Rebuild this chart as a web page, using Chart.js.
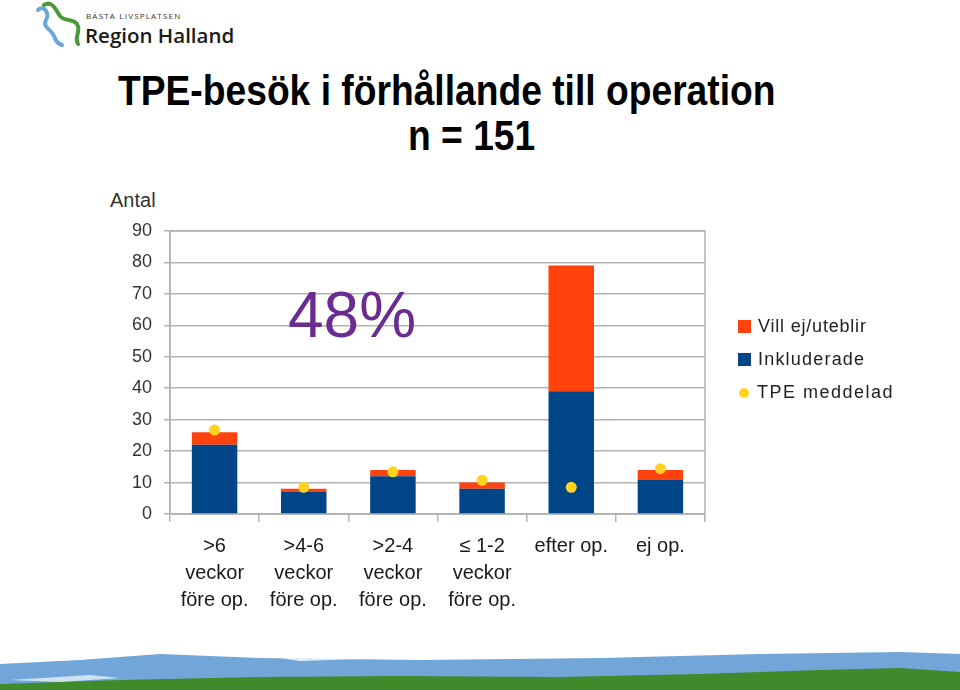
<!DOCTYPE html>
<html>
<head>
<meta charset="utf-8">
<script src="https://cdn.jsdelivr.net/npm/chart.js@4/dist/chart.umd.min.js"></script>
<style>
  body { margin: 0; background: #fff; }
  #wrap { position: relative; width: 960px; height: 690px; overflow: hidden; font-family: "Liberation Sans", Arial, sans-serif; }
  #chart { position: absolute; left: 0; top: 0; }
  .txt { position: absolute; white-space: nowrap; color: #000; }
  .title { font-size: 42px; font-weight: bold; line-height: 1; transform: scaleX(0.886); transform-origin: left top; }
  #legend .item { position: absolute; left: 738px; font-size: 18px; color: #222; height: 20px; line-height: 20px; }
  #legend .box { display: inline-block; width: 13px; height: 13px; margin-right: 7px; vertical-align: -1px; }
  #legend .dot { display: inline-block; width: 10px; height: 10px; border-radius: 50%; margin: 0 8px 0 1px; vertical-align: 0px; }
</style>
</head>
<body>
<div id="wrap">
  <!-- logga -->
  <svg class="txt" style="left:0;top:0" width="260" height="55">
    <path d="M38 10 C44 4 50 14 46 20 C42 27 52 30 54 36 C56 42 58 44 62 45" fill="none" stroke="#6aa8dc" stroke-width="4" stroke-linecap="round"/>
    <path d="M44 5 C52 0 56 10 60 16 C64 22 76 18 78 26 C80 33 74 38 78 44" fill="none" stroke="#4a9a3a" stroke-width="4" stroke-linecap="round"/>
    <text x="86" y="19" font-family="Open Sans, sans-serif" font-size="8" letter-spacing="1.2" fill="#333">BÄSTA LIVSPLATSEN</text>
    <text x="85" y="43" font-family="Open Sans, sans-serif" font-size="20.5" font-weight="600" fill="#1a1a1a">Region Halland</text>
  </svg>

  <div class="txt title" style="left:118px;top:70px;">TPE-besök i förhållande till operation</div>
  <div class="txt title" style="left:408px;top:115px;">n = 151</div>
  <div class="txt" style="left:110px;top:189px;font-size:20px;color:#333;">Antal</div>

  <canvas id="chart" width="960" height="690"></canvas>
  <div id="legend"></div>

  <!-- bottenremsa -->
  <svg class="txt" style="left:0;top:650px" width="960" height="40">
    <path d="M0 14 L80 10 L160 4 L260 8 L420 10 L600 8 L760 4 L900 2 L960 4 L960 40 L0 40 Z" fill="#72a6d8"/>
    <path d="M0 34 L120 30 L260 27 L400 26 L560 27 L700 24 L820 20 L900 18 L960 22 L960 40 L0 40 Z" fill="#3f8a2a"/>
    <path d="M10 30 L90 25 L120 28 L60 32 Z" fill="#e8f0f8" opacity="0.8"/>
    <path d="M280 8 L360 9 L300 11 Z" fill="#fff" opacity="0.8"/>
  </svg>
</div>

<script>
const categories = [
    ['>6', 'veckor', 'före op.'],
    ['>4-6', 'veckor', 'före op.'],
    ['>2-4', 'veckor', 'före op.'],
    ['≤ 1-2', 'veckor', 'före op.'],
    'efter op.',
    'ej op.'
];
const inkluderade = [22, 7, 12, 8, 39, 11];
const villEj = [4, 1, 2, 2, 40, 3];
const tpeMeddelad = [26.7, 8.5, 13.4, 10.7, 8.5, 14.4];
const yMax = 90;
const yStep = 10;

// ram runt diagramytan + 48%-texten
const frameAndNote = {
    id: 'frameAndNote',
    beforeDatasetsDraw(chart) {
        const { ctx, chartArea: a } = chart;
        ctx.save();
        ctx.strokeStyle = '#b3b3b3';
        ctx.lineWidth = 1.5;
        ctx.strokeRect(a.left, a.top, a.right - a.left, a.bottom - a.top);
        ctx.restore();
    },
    afterDraw(chart) {
        const { ctx, chartArea: a } = chart;
        ctx.save();
        ctx.fillStyle = '#6a2c91';
        ctx.font = '64px "Liberation Sans", Arial, sans-serif';
        ctx.textBaseline = 'alphabetic';
        ctx.fillText('48%', a.left + 118, a.top + 106);
        ctx.restore();
    }
};

const chart = new Chart(document.getElementById('chart'), {
    type: 'bar',
    data: {
        labels: categories,
        datasets: [
            {
                label: 'Inkluderade',
                data: inkluderade,
                backgroundColor: '#004586',
                stack: 'bars',
                order: 2
            },
            {
                label: 'Vill ej/uteblir',
                data: villEj,
                backgroundColor: '#ff420e',
                stack: 'bars',
                order: 2
            },
            {
                type: 'line',
                label: 'TPE meddelad',
                data: tpeMeddelad,
                showLine: false,
                stack: 'tpe',
                pointRadius: 5.5,
                pointHoverRadius: 5.5,
                pointBackgroundColor: '#ffd320',
                pointBorderColor: '#ffd320',
                pointBorderWidth: 0,
                order: 0
            }
        ]
    },
    options: {
        responsive: false,
        animation: false,
        layout: { padding: { top: 231, right: 255, bottom: 0, left: 0 } },
        datasets: { bar: { categoryPercentage: 1, barPercentage: 0.51 } },
        plugins: {
            legend: { display: false },
            tooltip: { enabled: false }
        },
        scales: {
            x: {
                stacked: true,
                offset: true,
                grid: { display: true, offset: true, drawOnChartArea: false, drawTicks: true, tickLength: 8, color: '#b3b3b3', lineWidth: 1.5 },
                border: { display: true, color: '#b3b3b3', width: 1.5 },
                ticks: {
                    color: '#1a1a1a',
                    padding: 11,
                    maxRotation: 0,
                    autoSkip: false,
                    font: { family: '"Liberation Sans", Arial, sans-serif', size: 20, lineHeight: 1.35 }
                },
                afterFit: s => { s.height = 176; }
            },
            y: {
                stacked: true,
                min: 0,
                max: yMax,
                ticks: {
                    stepSize: yStep,
                    color: '#333',
                    padding: 12,
                    font: { family: '"Liberation Sans", Arial, sans-serif', size: 18 }
                },
                grid: { color: '#b3b3b3', lineWidth: 1.5, tickLength: 6 },
                border: { display: true, color: '#b3b3b3', width: 1.5 },
                afterFit: s => { s.width = 170; }
            }
        }
    },
    plugins: [frameAndNote]
});

// förklaring byggd från dataseten
const legendEl = document.getElementById('legend');
const order = [1, 0, 2];
const tops = [316, 349, 382];
const spacing = ['0.8px', '1.2px', '1.5px'];
order.forEach((di, i) => {
    const ds = chart.data.datasets[di];
    const item = document.createElement('div');
    item.className = 'item';
    item.style.top = tops[i] + 'px';
    const mark = document.createElement('span');
    mark.className = ds.type === 'line' ? 'dot' : 'box';
    mark.style.background = ds.type === 'line' ? ds.pointBackgroundColor : ds.backgroundColor;
    const label = document.createElement('span');
    label.style.letterSpacing = spacing[i];
    label.textContent = ds.label;
    item.appendChild(mark);
    item.appendChild(label);
    legendEl.appendChild(item);
});
</script>
</body>
</html>
